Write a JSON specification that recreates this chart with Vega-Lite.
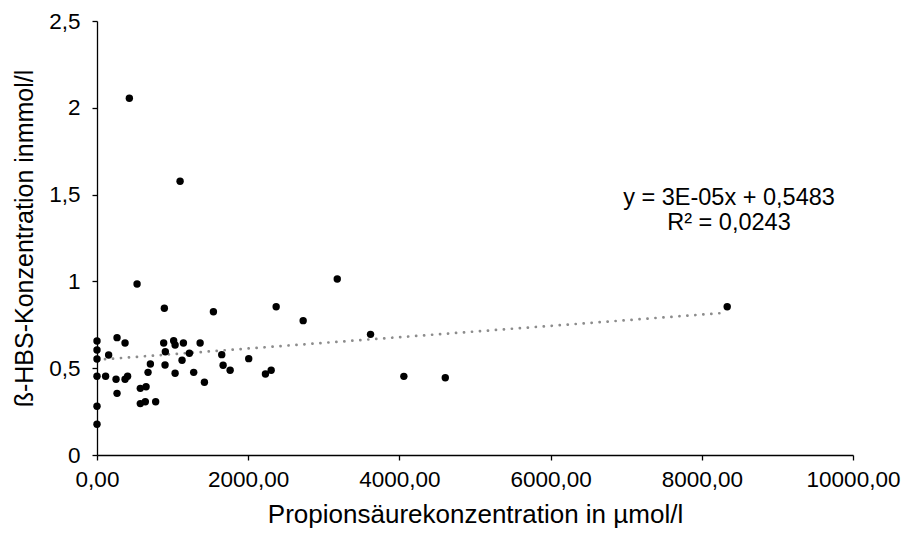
{
  "$schema": "https://vega.github.io/schema/vega-lite/v6.json",
  "width": 756,
  "height": 434,
  "autosize": "none",
  "padding": {"left": 97, "top": 21, "right": 55, "bottom": 81},
  "background": "white",
  "config": {
    "view": {"stroke": null},
    "font": "Liberation Sans",
    "locale": {"number": {"decimal": ",", "thousands": ".", "grouping": [3], "currency": ["", " €"]}}
  },
  "datasets": {
    "points": [
      {"x": 0, "y": 0.657}, {"x": 0, "y": 0.605}, {"x": 0, "y": 0.553}, {"x": 0, "y": 0.454},
      {"x": 0, "y": 0.281}, {"x": 0, "y": 0.177}, {"x": 114, "y": 0.454}, {"x": 154, "y": 0.576},
      {"x": 265, "y": 0.676}, {"x": 265, "y": 0.355}, {"x": 252, "y": 0.436}, {"x": 371, "y": 0.645},
      {"x": 371, "y": 0.436}, {"x": 405, "y": 0.454}, {"x": 428, "y": 2.055}, {"x": 530, "y": 0.985},
      {"x": 573, "y": 0.384}, {"x": 649, "y": 0.393}, {"x": 573, "y": 0.296}, {"x": 639, "y": 0.307},
      {"x": 706, "y": 0.524}, {"x": 675, "y": 0.476}, {"x": 776, "y": 0.307}, {"x": 882, "y": 0.645},
      {"x": 891, "y": 0.845}, {"x": 904, "y": 0.595}, {"x": 900, "y": 0.518}, {"x": 1014, "y": 0.658},
      {"x": 1033, "y": 0.634}, {"x": 1033, "y": 0.471}, {"x": 1099, "y": 1.577}, {"x": 1143, "y": 0.645},
      {"x": 1125, "y": 0.546}, {"x": 1222, "y": 0.586}, {"x": 1279, "y": 0.476}, {"x": 1364, "y": 0.645},
      {"x": 1421, "y": 0.419}, {"x": 1540, "y": 0.825}, {"x": 1650, "y": 0.578}, {"x": 1668, "y": 0.517},
      {"x": 1761, "y": 0.488}, {"x": 2007, "y": 0.555}, {"x": 2228, "y": 0.467}, {"x": 2304, "y": 0.488},
      {"x": 2370, "y": 0.854}, {"x": 2727, "y": 0.774}, {"x": 3178, "y": 1.014}, {"x": 3618, "y": 0.695},
      {"x": 4059, "y": 0.453}, {"x": 4607, "y": 0.445}, {"x": 8336, "y": 0.854}
    ],
    "trend": [
      {"x": 0, "y": 0.5483},
      {"x": 8336, "y": 0.82}
    ],
    "labels": [
      {"x": 8360, "y": 1.482, "label": "y = 3E-05x + 0,5483"},
      {"x": 8360, "y": 1.338, "label": "R² = 0,0243"}
    ]
  },
  "layer": [
    {
      "data": {"name": "trend"},
      "mark": {"type": "line", "color": "#8c8c8c", "strokeWidth": 2.7, "strokeDash": [0.1, 7.9], "strokeCap": "round"},
      "encoding": {
        "x": {"field": "x", "type": "quantitative"},
        "y": {"field": "y", "type": "quantitative"}
      }
    },
    {
      "data": {"name": "points"},
      "mark": {"type": "point", "filled": true, "color": "black", "opacity": 1, "size": 55, "shape": "circle"},
      "encoding": {
        "x": {
          "field": "x", "type": "quantitative",
          "scale": {"domain": [0, 10000], "nice": false, "zero": true},
          "axis": {
            "title": "Propionsäurekonzentration in µmol/l",
            "values": [0, 2000, 4000, 6000, 8000, 10000],
            "format": ".2f",
            "grid": false,
            "domainColor": "black", "domainWidth": 1.3,
            "tickColor": "black", "tickSize": 5, "tickWidth": 1.3,
            "labelFont": "Liberation Sans", "labelFontSize": 22.5, "labelColor": "#000000", "labelPadding": 8,
            "labelFlush": false, "labelOverlap": false,
            "titleFont": "Liberation Sans", "titleFontSize": 26, "titleFontWeight": "normal", "titleColor": "#000000", "titlePadding": 11
          }
        },
        "y": {
          "field": "y", "type": "quantitative",
          "scale": {"domain": [0, 2.5], "nice": false, "zero": true},
          "axis": {
            "title": "ß-HBS-Konzentration inmmol/l",
            "values": [0, 0.5, 1, 1.5, 2, 2.5],
            "format": "~r",
            "grid": false,
            "domainColor": "black", "domainWidth": 1.3,
            "tickColor": "black", "tickSize": 5, "tickWidth": 1.3,
            "labelFont": "Liberation Sans", "labelFontSize": 22.5, "labelColor": "#000000", "labelPadding": 12,
            "labelFlush": false, "labelOverlap": false,
            "titleFont": "Liberation Sans", "titleFontSize": 25, "titleFontWeight": "normal", "titleColor": "#000000", "titlePadding": 11
          }
        }
      }
    },
    {
      "data": {"name": "labels"},
      "mark": {"type": "text", "font": "Liberation Sans", "fontSize": 23.5, "color": "black", "align": "center", "baseline": "middle"},
      "encoding": {
        "x": {"field": "x", "type": "quantitative"},
        "y": {"field": "y", "type": "quantitative"},
        "text": {"field": "label", "type": "nominal"}
      }
    }
  ]
}
